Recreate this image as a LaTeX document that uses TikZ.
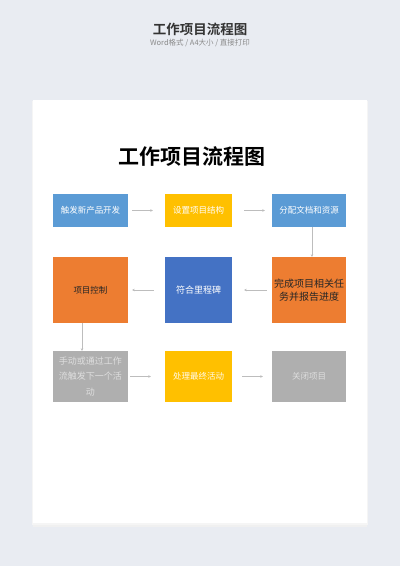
\documentclass[tikz,border=0pt]{standalone}
\usepackage{fontspec}
\setmainfont{Noto Sans CJK SC}[BoldFont={Noto Sans CJK SC Bold}]
\usetikzlibrary{arrows.meta}
\definecolor{bgc}{HTML}{E9ECF2}
\definecolor{cblue}{HTML}{5B9BD5}
\definecolor{cyellow}{HTML}{FFC000}
\definecolor{corange}{HTML}{ED7D31}
\definecolor{cdblue}{HTML}{4472C4}
\definecolor{cgray}{HTML}{AFAFAF}
\definecolor{arrowc}{HTML}{BDBDBD}
\tikzset{
  box/.style={inner sep=0pt, align=center, font=\fontsize{8.5}{13}\selectfont, text=white},
  flow/.style={draw=arrowc, line width=0.6pt, -{Stealth[length=2.5pt,width=2.5pt]}},
}
\begin{document}
\begin{tikzpicture}[x=1pt,y=-1pt]
\useasboundingbox (0,0) rectangle (400,566);
\fill[bgc] (0,0) rectangle (400,566);
% page with soft shadow
\fill[black!6] (33,102) rectangle (367,527);
\fill[black!4] (32,101) rectangle (368,525);
\fill[white] (33,100) rectangle (367,523);
% header
\node (htitle) at (200,29) {\fontsize{13.5}{15}\selectfont\bfseries\color[HTML]{333333}工作项目流程图};
\node (hsub) at (200,43) {\fontsize{7.5}{9}\selectfont\color[HTML]{8A8A8A}Word格式 / A4大小 / 直接打印};
% title
\node (title) at (192,157) {\fontsize{21}{24}\selectfont\bfseries 工作项目流程图};
% row 1
\node[box, fill=cblue, minimum width=75pt, minimum height=33pt] (b1) at (90.5,210.5) {触发新产品开发};
\node[box, fill=cyellow, minimum width=67pt, minimum height=33pt] (b2) at (198.5,210.5) {设置项目结构};
\node[box, fill=cblue, minimum width=74pt, minimum height=33pt] (b3) at (309,210.5) {分配文档和资源};
% row 2
\node[box, fill=corange, minimum width=75pt, minimum height=66pt, text=black!85] (b4) at (90.5,290) {项目控制};
\node[box, fill=cdblue, minimum width=67pt, minimum height=66pt, font=\fontsize{9}{13}\selectfont] (b5) at (198.5,290) {符合里程碑};
\node[box, fill=corange, minimum width=74pt, minimum height=66pt, text=black!85, font=\fontsize{10}{12.5}\selectfont] (b6) at (309,290) {完成项目相关任\\务并报告进度};
% row 3
\node[box, fill=cgray, minimum width=75pt, minimum height=51pt, text=black!13, font=\fontsize{9}{15.5}\selectfont] (b7) at (90.5,376.5) {手动或通过工作\\流触发下一个活\\动};
\node[box, fill=cyellow, minimum width=67pt, minimum height=51pt, text=white!92!cyellow] (b8) at (198.5,376.5) {处理最终活动};
\node[box, fill=cgray, minimum width=74pt, minimum height=51pt, text=black!13] (b9) at (309,376.5) {关闭项目};
% connectors
\draw[flow, shorten <=4pt, shorten >=12pt] (b1) -- (b2);
\draw[flow, shorten <=12pt, shorten >=7pt] (b2) -- (b3);
\draw[flow] ([xshift=3pt]b3.south) -- ([xshift=3pt]b6.north);
\draw[flow, shorten <=5pt, shorten >=12pt] (b6) -- (b5);
\draw[flow, shorten <=11pt, shorten >=4pt] (b5) -- (b4);
\draw[flow] ([xshift=-8.5pt]b4.south) -- ([xshift=-8.5pt]b7.north);
\draw[flow, shorten <=2pt, shorten >=14pt] (b7.east |- b8) -- (b8);
\draw[flow, shorten <=10pt, shorten >=9pt] (b8) -- (b9);
\end{tikzpicture}
\end{document}
